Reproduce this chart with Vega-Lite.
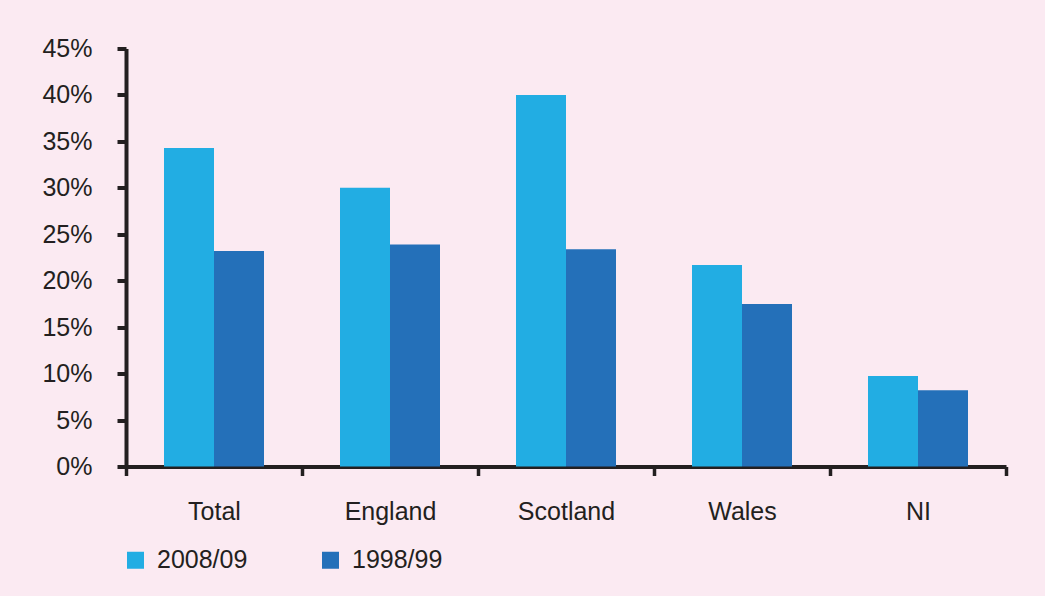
{
  "$schema": "https://vega.github.io/schema/vega-lite/v6.json",
  "autosize": "none",
  "width": 880,
  "height": 418,
  "padding": {"left": 126, "top": 48.5, "right": 39, "bottom": 129.5},
  "background": "#fbeaf2",
  "data": {
    "values": [
      {"region": "Total", "year": "2008/09", "share": 34.3},
      {"region": "Total", "year": "1998/99", "share": 23.2},
      {"region": "England", "year": "2008/09", "share": 30.0},
      {"region": "England", "year": "1998/99", "share": 23.9},
      {"region": "Scotland", "year": "2008/09", "share": 40.0},
      {"region": "Scotland", "year": "1998/99", "share": 23.4},
      {"region": "Wales", "year": "2008/09", "share": 21.7},
      {"region": "Wales", "year": "1998/99", "share": 17.5},
      {"region": "NI", "year": "2008/09", "share": 9.75},
      {"region": "NI", "year": "1998/99", "share": 8.2}
    ]
  },
  "mark": {"type": "bar"},
  "encoding": {
    "x": {
      "field": "region",
      "type": "nominal",
      "sort": ["Total", "England", "Scotland", "Wales", "NI"],
      "scale": {"paddingInner": 0, "paddingOuter": 0},
      "axis": {
        "title": null,
        "labelAngle": 0,
        "tickBand": "extent",
        "tickSize": 9,
        "tickWidth": 3.5,
        "tickColor": "#231f20",
        "domainColor": "#231f20",
        "domainWidth": 4,
        "labelFont": "Liberation Sans",
        "labelFontSize": 25,
        "labelColor": "#231f20",
        "labelPadding": 24
      }
    },
    "xOffset": {
      "field": "year",
      "type": "nominal",
      "sort": ["2008/09", "1998/99"],
      "scale": {"paddingInner": 0, "paddingOuter": 0.76}
    },
    "y": {
      "field": "share",
      "type": "quantitative",
      "scale": {"domain": [0, 45], "nice": false},
      "axis": {
        "title": null,
        "values": [0, 5, 10, 15, 20, 25, 30, 35, 40, 45],
        "labelExpr": "datum.value + '%'",
        "grid": false,
        "tickSize": 9,
        "tickWidth": 4,
        "tickColor": "#231f20",
        "domainColor": "#231f20",
        "domainWidth": 4,
        "labelFont": "Liberation Sans",
        "labelFontSize": 25,
        "labelColor": "#231f20",
        "labelPadding": 25
      }
    },
    "color": {
      "field": "year",
      "type": "nominal",
      "scale": {"domain": ["2008/09", "1998/99"], "range": ["#22ade3", "#2470b9"]},
      "legend": {
        "title": null,
        "orient": "none",
        "legendX": -3,
        "legendY": 499,
        "direction": "horizontal",
        "symbolType": "square",
        "symbolSize": 289,
        "symbolStrokeWidth": 0,
        "symbolOpacity": 1,
        "labelFont": "Liberation Sans",
        "labelFontSize": 25,
        "labelColor": "#231f20",
        "labelOffset": 9,
        "columnPadding": 70
      }
    }
  },
  "config": {"view": {"stroke": null}}
}
